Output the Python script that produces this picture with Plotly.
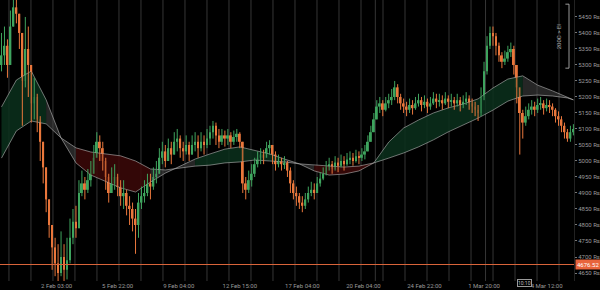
import plotly.graph_objects as go

# ---------------- data ----------------
close = [
    5330, 5360, 5300, 5420, 5480, 5460, 5400, 5250, 5350, 5300,
    5180, 5200, 5130, 5060, 4980, 4880, 4800, 4730, 4680, 4650,
    4700, 4660, 4690, 4760, 4810, 4790, 4900, 4930, 4910, 4940,
    4960, 5010, 5060, 5040, 5000, 4950, 4900, 4930, 4950, 4920,
    4890, 4900, 4860, 4850, 4820, 4800, 4870, 4890, 4900, 4930,
    4920, 4950, 4960, 5010, 5030, 5000, 5040, 5020, 5060, 5070,
    5040, 5030, 5050, 5020, 5050, 5060, 5040, 5060, 5050, 5070,
    5090, 5110, 5080, 5060, 5080, 5070, 5080, 5060, 5075, 5085,
    5060, 4930, 4910, 4940, 4960, 4990, 5010, 5020, 5010, 5040,
    5050, 5020, 4990, 5000, 4990, 4995, 4970, 4930, 4900, 4890,
    4870, 4860, 4880, 4900, 4910, 4900, 4930, 4945, 4960, 4980,
    4990, 4975, 4995, 4985, 5000, 4990, 5005, 5010, 5000, 5015,
    5010, 5020, 5030, 5060, 5090, 5130, 5170, 5180, 5160, 5180,
    5190, 5200, 5230, 5200, 5180, 5170, 5160, 5175, 5165, 5180,
    5190, 5175, 5185, 5170, 5180, 5195, 5185, 5190, 5180, 5195,
    5185, 5190, 5180, 5190, 5175, 5185, 5195, 5180, 5170, 5160,
    5150, 5200, 5280, 5360, 5400, 5390, 5360, 5330, 5310, 5320,
    5340, 5350, 5300, 5230, 5150, 5120, 5140, 5160, 5170, 5160,
    5175, 5180, 5165, 5175, 5170, 5160, 5140, 5130, 5110, 5090,
    5070, 5090, 5100]
high = [
    5400, 5420, 5380, 5470, 5510, 5510, 5450, 5380, 5450, 5420,
    5300, 5260, 5210, 5140, 5060, 4960, 4880, 4800, 4760, 4740,
    4780, 4740, 4760, 4820, 4850, 4860, 4940, 4970, 4950, 4975,
    5000, 5050, 5090, 5080, 5060, 5010, 4960, 4980, 4990, 4960,
    4940, 4940, 4910, 4890, 4870, 4850, 4900, 4920, 4940, 4960,
    4960, 4980, 5000, 5040, 5060, 5050, 5070, 5060, 5090, 5100,
    5080, 5060, 5080, 5060, 5080, 5090, 5080, 5090, 5080, 5100,
    5110, 5125, 5120, 5100, 5100, 5095, 5100, 5090, 5095, 5100,
    5090, 5060, 4950, 4970, 4990, 5010, 5030, 5040, 5035, 5060,
    5065, 5050, 5030, 5020, 5010, 5015, 5000, 4980, 4940, 4920,
    4900, 4890, 4900, 4920, 4935, 4930, 4950, 4965, 4980, 5000,
    5010, 5000, 5015, 5010, 5020, 5015, 5025, 5030, 5025, 5035,
    5030, 5040, 5050, 5080, 5110, 5150, 5190, 5200, 5190, 5200,
    5210, 5225, 5250, 5240, 5210, 5195, 5185, 5195, 5190, 5200,
    5210, 5200, 5205, 5195, 5200, 5215, 5210, 5210, 5205, 5215,
    5205, 5210, 5200, 5210, 5200, 5205, 5215, 5205, 5195, 5185,
    5175, 5230, 5310, 5390, 5420, 5420, 5400, 5370, 5340, 5345,
    5360, 5370, 5360, 5300, 5230, 5160, 5170, 5180, 5190, 5185,
    5195, 5200, 5190, 5195, 5190, 5180, 5165, 5155, 5140, 5120,
    5100, 5110, 5115]
low = [
    5280, 5300, 5260, 5380, 5440, 5430, 5350, 5110, 5230, 5200,
    5120, 5130, 5090, 5000, 4930, 4840, 4760, 4660, 4640, 4620,
    4640, 4625, 4630, 4680, 4740, 4760, 4870, 4890, 4880, 4900,
    4920, 4960, 5010, 5000, 4970, 4910, 4870, 4900, 4910, 4890,
    4860, 4850, 4830, 4800, 4780, 4710, 4760, 4850, 4870, 4890,
    4880, 4910, 4930, 4960, 4990, 4980, 5000, 4990, 5030, 5030,
    5010, 5000, 5020, 5000, 5020, 5030, 5010, 5030, 5020, 5040,
    5050, 5070, 5050, 5040, 5050, 5045, 5050, 5040, 5050, 5060,
    5040, 4900, 4880, 4900, 4920, 4950, 4980, 4990, 4990, 5010,
    5020, 4990, 4970, 4980, 4970, 4975, 4950, 4900, 4880, 4860,
    4850, 4840, 4850, 4870, 4890, 4880, 4905, 4920, 4940, 4955,
    4970, 4960, 4970, 4965, 4980, 4970, 4985, 4990, 4985, 4995,
    4990, 5000, 5005, 5030, 5060, 5090, 5130, 5150, 5140, 5155,
    5165, 5175, 5190, 5180, 5160, 5150, 5140, 5150, 5145, 5160,
    5170, 5155, 5165, 5150, 5160, 5175, 5165, 5170, 5160, 5175,
    5165, 5170, 5160, 5170, 5155, 5165, 5175, 5160, 5150, 5140,
    5125, 5140, 5190, 5270, 5350, 5360, 5330, 5310, 5290, 5300,
    5310, 5325, 5270, 5180, 5020, 5070, 5110, 5130, 5145, 5140,
    5150, 5160, 5145, 5155, 5150, 5140, 5120, 5110, 5090, 5070,
    5060, 5060, 5080]
first_open = 5300

# moving averages, sampled at these candle indices
ma_idx = list(range(0, 191, 5)) + [192]
fast_ma = [5169, 5253, 5281, 5191, 5072, 4994, 4956, 4937, 4916, 4903,
           4934, 4962, 4984, 5006, 5022, 5037, 5044, 5034, 5022, 5006,
           4991, 4969, 4956, 4959, 4969, 4994, 5059, 5103, 5128, 5150,
           5166, 5178, 5194, 5228, 5256, 5266, 5237, 5219, 5200, 5191]
slow_ma = [5009, 5094, 5125, 5116, 5072, 5041, 5028, 5022, 5016, 5000,
           4975, 4972, 4978, 4984, 4987, 4994, 4997, 5003, 5000, 4997,
           4991, 4987, 4984, 4981, 4984, 4994, 5009, 5025, 5044, 5066,
           5091, 5112, 5134, 5159, 5187, 5203, 5206, 5203, 5197, 5191]
band_state = (['up'] * 3 + ['flat'] * 2 + ['down'] * 5 + ['flat'] * 3 +
              ['up'] * 6 + ['flat'] * 2 + ['down'] * 4 + ['up'] * 10 +
              ['flat'] * 4)

price_line = 4676.52
y_ticks = list(range(4650, 5451, 50))
x_tick_labels = ["2 Feb 03:00", "5 Feb 22:00", "9 Feb 04:00", "12 Feb 15:00",
                 "17 Feb 04:00", "20 Feb 04:00", "24 Feb 22:00", "1 Mar 20:00",
                 "4 Mar 12:00"]
x_tick_pos = [18.5, 39, 59.5, 80, 101, 121.5, 142, 162, 183]

# ---------------- figure ----------------
n = len(close)
xs = list(range(n))
opens = [first_open] + close[:-1]
highs = [max(h, o, c) for h, o, c in zip(high, opens, close)]
lows = [min(l, o, c) for l, o, c in zip(low, opens, close)]

UP = '#3fa45e'
DN = '#e9773c'

fig = go.Figure()

band_colors = {'up': 'rgba(10,48,28,0.85)',
               'down': 'rgba(60,8,8,0.85)',
               'flat': 'rgba(70,70,70,0.55)'}

runs = []
start = 0
for j in range(1, len(band_state) + 1):
    if j == len(band_state) or band_state[j] != band_state[start]:
        runs.append((start, j, band_state[start]))
        start = j
for a, b, st in runs:
    seg_x = ma_idx[a:b + 1]
    fig.add_trace(go.Scatter(x=seg_x, y=slow_ma[a:b + 1], mode='lines',
                             line=dict(width=0), hoverinfo='skip',
                             showlegend=False))
    fig.add_trace(go.Scatter(x=seg_x, y=fast_ma[a:b + 1], mode='lines',
                             line=dict(width=0), fill='tonexty',
                             fillcolor=band_colors[st], hoverinfo='skip',
                             showlegend=False))

for ma in (slow_ma, fast_ma):
    fig.add_trace(go.Scatter(x=ma_idx, y=ma, mode='lines',
                             line=dict(color='rgba(195,195,195,0.7)', width=0.8),
                             hoverinfo='skip', showlegend=False))

# candles: wicks + bodies
for is_up, col in ((True, UP), (False, DN)):
    wx, wy = [], []
    for i in range(n):
        if (close[i] >= opens[i]) == is_up:
            wx += [i, i, None]
            wy += [lows[i], highs[i], None]
    fig.add_trace(go.Scatter(x=wx, y=wy, mode='lines',
                             line=dict(color=col, width=1),
                             hoverinfo='skip', showlegend=False))

body_base = [min(o, c) for o, c in zip(opens, close)]
body_h = [max(abs(c - o), 3) for o, c in zip(opens, close)]
body_col = [UP if c >= o else DN for o, c in zip(opens, close)]
fig.add_trace(go.Bar(x=xs, y=body_h, base=body_base, width=0.62,
                     marker=dict(color=body_col, line=dict(width=0)),
                     hoverinfo='skip', showlegend=False))

shapes = []
vline_pos = [2.5 + k * 7.387 for k in range(26)] + [125.5, 162.5]
for vx in vline_pos:
    shapes.append(dict(type='line', xref='x', yref='paper', x0=vx, x1=vx,
                       y0=0, y1=1, layer='below',
                       line=dict(color='rgba(160,160,160,0.33)', width=1)))
shapes.append(dict(type='line', xref='paper', yref='y', x0=0, x1=1,
                   y0=price_line, y1=price_line,
                   line=dict(color='#d9643a', width=1)))
shapes.append(dict(type='path', xref='paper', yref='y',
                   path='M 0.985 5490 L 0.9913 5490 L 0.9913 5290 L 0.985 5290',
                   line=dict(color='rgba(190,190,190,0.8)', width=1)))

annotations = [
    dict(xref='paper', yref='y', x=1, y=price_line, xanchor='left', xshift=1,
         text='4676.52', showarrow=False, bgcolor='#e8643c', borderpad=1,
         font=dict(size=6, color='white', family='Roboto')),
    dict(xref='paper', yref='y', x=0.982, y=5390, text='200C > EI',
         textangle=-90, showarrow=False,
         font=dict(size=6, color='#aaaaaa', family='Roboto')),
    dict(xref='x', yref='paper', x=175.7, y=0.0, yanchor='top', yshift=2,
         text='10:10', showarrow=False, bordercolor='#9a9a9a', borderwidth=1,
         borderpad=0, font=dict(size=5, color='#bbbbbb', family='Roboto')),
]

fig.update_layout(
    width=600, height=290, autosize=False,
    margin=dict(l=0, r=22, t=0, b=9),
    paper_bgcolor='#000000', plot_bgcolor='#000000',
    barmode='overlay',
    shapes=shapes, annotations=annotations, showlegend=False,
    xaxis=dict(range=[-0.5, 192.2], tickmode='array', tickvals=x_tick_pos,
               ticktext=x_tick_labels, showgrid=False, zeroline=False,
               tickfont=dict(size=6, color='#9a9a9a', family='Roboto')),
    yaxis=dict(range=[4625, 5503], side='right', tickmode='array',
               tickvals=y_ticks, ticktext=[f"{v} Rs" for v in y_ticks],
               showgrid=False, zeroline=False, ticks='outside', ticklen=2,
               tickcolor='#777777', showline=True, linecolor='#222222',
               tickfont=dict(size=6, color='#9a9a9a', family='Roboto')),
)

fig.write_html("out.html")
